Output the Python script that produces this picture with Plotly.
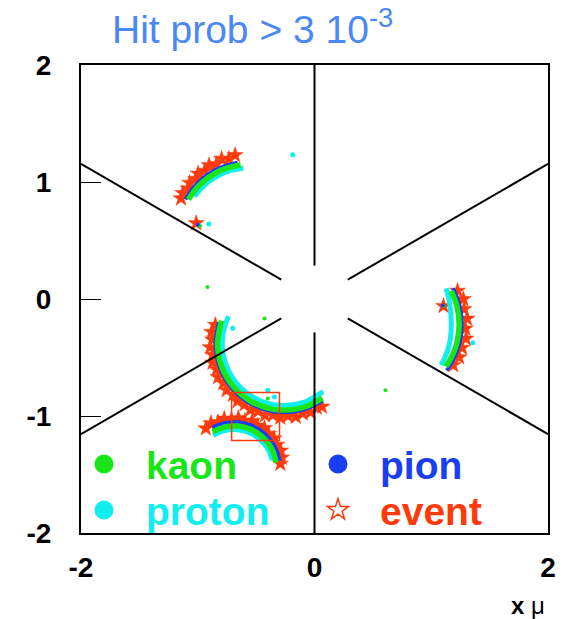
import plotly.graph_objects as go

# ---- ring hit patterns (x, y); None separates the individual rings ----
pion_x = [-1.107, -1.039, -0.962, -0.873, -0.774, -0.658, None,
          -0.821, -0.850, -0.814, -0.712, -0.555, -0.362, -0.158, -0.039, 0.070, None,
          -0.878, -0.759, -0.655, -0.553, -0.461, -0.384, -0.327, -0.296, None,
          1.187, 1.242, 1.264, 1.242, 1.193, 1.132]
pion_y = [0.853, 0.952, 1.029, 1.091, 1.137, 1.167, None,
          -0.198, -0.380, -0.582, -0.759, -0.891, -0.961, -0.961, -0.927, -0.869, None,
          -1.097, -1.056, -1.052, -1.074, -1.122, -1.193, -1.281, -1.381, None,
          0.091, -0.047, -0.217, -0.387, -0.514, -0.611]

kaon_x = [-1.080, -1.020, -0.946, -0.860, -0.765, -0.633, None,
          -0.796, -0.830, -0.796, -0.697, -0.545, -0.359, -0.161, -0.046, 0.067, None,
          -0.873, -0.753, -0.658, -0.565, -0.481, -0.410, -0.359, -0.329, None,
          1.170, 1.218, 1.239, 1.218, 1.180, 1.125]
kaon_y = [0.850, 0.936, 1.010, 1.070, 1.114, 1.146, None,
          -0.185, -0.380, -0.575, -0.746, -0.874, -0.941, -0.941, -0.908, -0.847, None,
          -1.134, -1.091, -1.086, -1.107, -1.151, -1.215, -1.296, -1.399, None,
          0.069, -0.054, -0.217, -0.380, -0.483, -0.578]

proton_x = [-1.027, -0.963, -0.887, -0.801, -0.708, -0.610, None,
            -0.736, -0.782, -0.782, -0.719, -0.601, -0.441, -0.260, -0.079, 0.074, None,
            -0.868, -0.777, -0.678, -0.575, -0.498, -0.433, -0.386, -0.362, None,
            1.128, 1.155, 1.170, 1.171, 1.155, 1.125, 1.085]
proton_y = [0.877, 0.953, 1.017, 1.067, 1.101, 1.118, None,
            -0.148, -0.288, -0.472, -0.645, -0.786, -0.878, -0.910, -0.878, -0.792, None,
            -1.166, -1.126, -1.115, -1.135, -1.176, -1.235, -1.308, -1.380, None,
            0.092, -0.020, -0.150, -0.266, -0.390, -0.480, -0.565]

# isolated single hits
kaon_dot_x = [-0.979, -0.917, -0.428, 0.608, -0.400, 1.105]
kaon_dot_y = [0.625, 0.103, -0.166, -0.779, -0.851, -0.060]
proton_dot_x = [-0.905, -0.186, -0.700, -0.400, -0.343, 1.356]
proton_dot_y = [0.642, 1.233, -0.251, -0.779, -0.837, -0.374]
pion_dot_x = [-1.000, 1.100]
pion_dot_y = [0.635, -0.055]

# observed event hits
event_x = [-1.143, -1.128, -1.083, -1.069, -1.018, -0.997, -0.941, -0.903, -0.841, -0.796, -0.733, -0.680,
           -1.013,
           -0.849, -0.882, -0.874, -0.894, -0.872, -0.873, -0.839, -0.826, -0.780, -0.753, -0.698, -0.660,
           -0.598, -0.548, -0.482, -0.424, -0.357, -0.293, -0.228, -0.161, -0.100, -0.034, 0.019, 0.064,
           -0.931, -0.887, -0.827, -0.773, -0.712, -0.652, -0.596, -0.534, -0.486, -0.428, -0.393, -0.347,
           -0.323, -0.289, -0.281, -0.292,
           1.225, 1.275, 1.281, 1.307, 1.293, 1.298, 1.264, 1.239, 1.188,
           1.105]
event_y = [0.860, 0.905, 0.944, 0.993, 1.025, 1.071, 1.095, 1.143, 1.153, 1.198, 1.197, 1.230,
           0.648,
           -0.222, -0.281, -0.348, -0.413, -0.477, -0.544, -0.602, -0.668, -0.718, -0.780, -0.818, -0.873,
           -0.900, -0.946, -0.959, -0.993, -0.992, -1.014, -0.999, -1.007, -0.979, -0.968, -0.928, -0.920,
           -1.106, -1.062, -1.053, -1.023, -1.031, -1.017, -1.041, -1.044, -1.083, -1.103, -1.153, -1.191,
           -1.246, -1.296, -1.356, -1.408,
           0.070, -0.001, -0.086, -0.168, -0.253, -0.339, -0.417, -0.498, -0.565,
           -0.060]

# sector boundaries of the detector plane
edge_x0 = [0.0, -0.285, -0.285, 0.0, 0.285, 0.285]
edge_y0 = [0.285, 0.165, -0.165, -0.285, -0.165, 0.165]
edge_x1 = [0.0, -2.0, -2.0, 0.0, 2.0, 2.0]
edge_y1 = [2.0, 1.155, -1.155, -2.0, -1.155, 1.155]

# highlighted region
box_x = [-0.71, -0.30]
box_y = [-1.21, -0.80]

tick_vals = [-2, 0, 2]
tick_text = ["-2", "0", "2"]
ytick_vals = [-2, -1, 0, 1, 2]
ytick_text = ["-2", "-1", "0", "1", "2"]

GREEN = "#19e619"
CYAN = "#11eeee"
BLUE = "#1a3ff0"
RED = "#ff3a0a"
FONT = "Liberation Sans"

fig = go.Figure()

for x0, y0, x1, y1 in zip(edge_x0, edge_y0, edge_x1, edge_y1):
    fig.add_shape(type="line", x0=x0, y0=y0, x1=x1, y1=y1, xref="x", yref="y",
                  line=dict(color="black", width=2))

fig.add_shape(type="rect", x0=box_x[0], x1=box_x[1], y0=box_y[0], y1=box_y[1],
              xref="x", yref="y", line=dict(color=RED, width=1.5))

fig.add_trace(go.Scatter(x=event_x, y=event_y, mode="markers", showlegend=False,
                         marker=dict(symbol="star", size=12, color=RED,
                                     line=dict(color=RED, width=0.5))))
fig.add_trace(go.Scatter(x=proton_x, y=proton_y, mode="lines", showlegend=False,
                         line=dict(color=CYAN, width=5, shape="spline")))
fig.add_trace(go.Scatter(x=pion_x, y=pion_y, mode="lines", showlegend=False,
                         line=dict(color=BLUE, width=3.5, shape="spline")))
fig.add_trace(go.Scatter(x=kaon_x, y=kaon_y, mode="lines", showlegend=False,
                         line=dict(color=GREEN, width=5.5, shape="spline")))
fig.add_trace(go.Scatter(x=proton_dot_x, y=proton_dot_y, mode="markers", showlegend=False,
                         marker=dict(size=5, color=CYAN)))
fig.add_trace(go.Scatter(x=kaon_dot_x, y=kaon_dot_y, mode="markers", showlegend=False,
                         marker=dict(size=4, color=GREEN)))
fig.add_trace(go.Scatter(x=pion_dot_x, y=pion_dot_y, mode="markers", showlegend=False,
                         marker=dict(size=4, color=BLUE)))

# legend keys: one small legend per entry, laid out as a 2x2 grid
legend_items = [("kaon", GREEN, "circle", "legend", -0.0407, 0.147),
                ("pion", BLUE, "circle", "legend2", 0.4604, 0.147),
                ("proton", CYAN, "circle", "legend3", -0.0407, 0.049),
                ("event", RED, "star-open", "legend4", 0.4604, 0.049)]
legend_layout = {}
for name, col, sym, lg, lx, ly in legend_items:
    fig.add_trace(go.Scatter(
        x=[None], y=[None], mode="markers", legend=lg,
        name=f"<span style='color:{col}'>{name}</span>",
        marker=dict(symbol=sym, size=16, color=col,
                    line=dict(color=col, width=3 if sym == "circle" else 1.5))))
    legend_layout[lg] = dict(x=lx, y=ly, xanchor="left", yanchor="middle",
                             itemwidth=74, itemsizing="trace",
                             bgcolor="rgba(0,0,0,0)", borderwidth=0,
                             font=dict(family=FONT, size=39, weight="bold"))

axis_common = dict(range=[-2, 2], showgrid=False, zeroline=False, showline=True,
                   mirror=True, linecolor="black", linewidth=2, ticks="inside",
                   ticklen=20, tickwidth=1, tickcolor="black", fixedrange=True,
                   tickfont=dict(family=FONT, size=28, color="black", weight="bold"))

fig.update_xaxes(tickvals=tick_vals, ticktext=tick_text, ticklabelstandoff=8, **axis_common)
fig.update_yaxes(tickvals=ytick_vals, ticktext=ytick_text, ticklabelstandoff=22, **axis_common)

fig.add_annotation(text="Hit prob > 3 10<sup>-3</sup>",
                   xref="paper", yref="paper",
                   x=0.062, y=1.082, xanchor="left", yanchor="middle", showarrow=False,
                   font=dict(family=FONT, size=39, color="#4a88f5"))
fig.add_annotation(text="<b>x</b> μ", xref="paper", yref="paper",
                   x=0.998, y=-0.154, xanchor="right", yanchor="middle", showarrow=False,
                   font=dict(family=FONT, size=24, color="black"))

fig.update_layout(
    width=564, height=619,
    margin=dict(l=81, r=16, t=65, b=86, autoexpand=False),
    plot_bgcolor="white", paper_bgcolor="white",
    showlegend=True,
    **legend_layout,
)

fig.write_html("out.html")
